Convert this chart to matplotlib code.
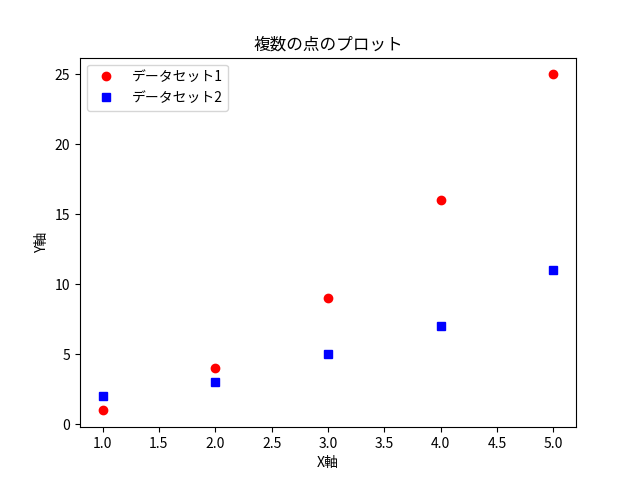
import matplotlib
matplotlib.use("Agg")
import matplotlib.pyplot as plt

plt.rcParams['font.family'] = ['Noto Sans CJK JP', 'DejaVu Sans']

# データ
x = [1, 2, 3, 4, 5]
y1 = [1, 4, 9, 16, 25]
y2 = [2, 3, 5, 7, 11]

fig, ax = plt.subplots(figsize=(6.4, 4.8), dpi=100)

ax.plot(x, y1, 'ro', label='データセット1')
ax.plot(x, y2, 'bs', label='データセット2')

ax.set_title('複数の点のプロット')
ax.set_xlabel('X軸')
ax.set_ylabel('Y軸')
ax.legend(loc='upper left')

fig.savefig('out.png')
